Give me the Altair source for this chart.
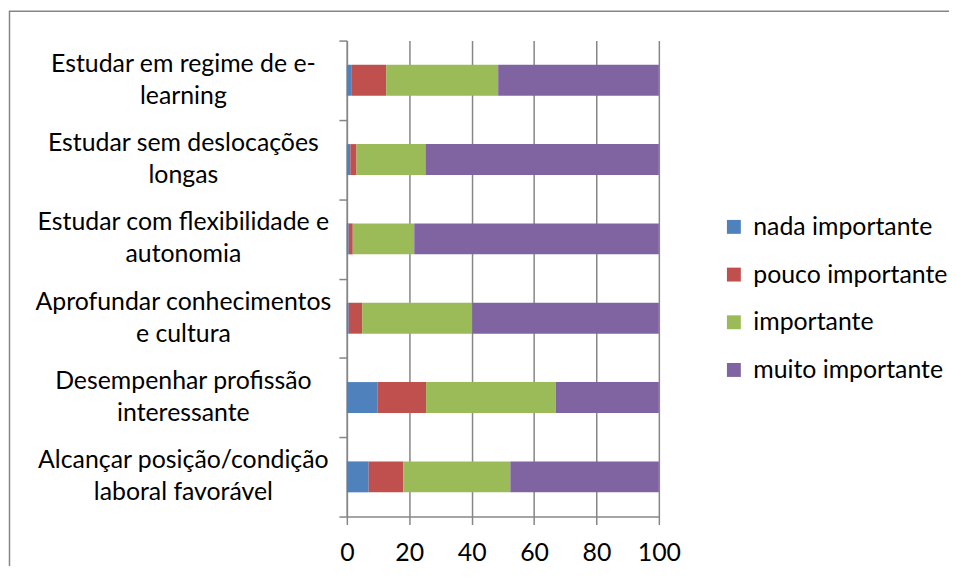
import altair as alt
import pandas as pd

categories = [
    "Estudar em regime de e-\nlearning",
    "Estudar sem deslocações\nlongas",
    "Estudar com flexibilidade e\nautonomia",
    "Aprofundar conhecimentos\ne cultura",
    "Desempenhar profissão\ninteressante",
    "Alcançar posição/condição\nlaboral favorável",
]
series = ["nada importante", "pouco importante", "importante", "muito importante"]
colors = ["#4F81BD", "#C0504D", "#9BBB59", "#8064A2"]

nada = [1.6, 1.1, 0.6, 0.6, 9.9, 7.0]
pouco = [11.0, 2.0, 1.3, 4.3, 15.5, 11.1]
importante = [35.9, 22.1, 19.7, 35.3, 41.6, 34.3]
muito = [51.5, 74.8, 78.4, 59.8, 33.0, 47.6]
x_ticks = [0, 20, 40, 60, 80, 100]

rows = []
for i, c in enumerate(categories):
    for k, (s, vals) in enumerate(zip(series, [nada, pouco, importante, muito])):
        rows.append({"cat": c, "serie": s, "valor": vals[i], "ordem": k})
df = pd.DataFrame(rows)

FONT = "Lato"
FS = 25
GRAY = "#868686"

bars = alt.Chart(df).mark_bar(stroke=None, height={"band": 0.39}).encode(
    y=alt.Y(
        "cat:N",
        sort=categories,
        title=None,
        scale=alt.Scale(paddingInner=0, paddingOuter=0),
        axis=alt.Axis(
            labelExpr="split(datum.label, '\\n')",
            labelAlign="center",
            labelPadding=157,
            labelOffset=-17,
            labelLimit=500,
            labelFont=FONT,
            labelFontSize=FS,
            labelColor="#000000",
            labelLineHeight=32,
            tickBand="extent",
            tickSize=8,
            tickColor=GRAY,
            tickWidth=1.5,
            domainColor=GRAY,
            domainWidth=1.5,
            grid=False,
        ),
    ),
    x=alt.X(
        "valor:Q",
        stack="zero",
        title=None,
        scale=alt.Scale(domain=[0, 100], nice=False),
        axis=alt.Axis(
            values=x_ticks,
            labelFont=FONT,
            labelFontSize=FS,
            labelColor="#000000",
            labelPadding=16,
            labelFlush=False,
            labelOverlap=False,
            tickSize=8,
            tickColor=GRAY,
            tickWidth=1.5,
            domainColor=GRAY,
            domainWidth=1.5,
            grid=True,
            gridColor=GRAY,
            gridWidth=1.5,
        ),
    ),
    color=alt.Color(
        "serie:N",
        sort=series,
        scale=alt.Scale(domain=series, range=colors),
        legend=alt.Legend(
            title=None,
            orient="none",
            legendX=377,
            legendY=175,
            symbolType="square",
            symbolSize=196,
            symbolStrokeWidth=0,
            labelFont=FONT,
            labelFontSize=FS,
            labelColor="#000000",
            labelLimit=500,
            labelOffset=7,
            rowPadding=22,
        ),
    ),
    order=alt.Order("ordem:Q", sort="ascending"),
)

border = alt.Chart(pd.DataFrame({"b": [0]})).mark_rect(
    fill=None, stroke=GRAY, strokeWidth=1.5
).encode(
    x=alt.value(-339.5),
    x2=alt.value(640),
    y=alt.value(-29.5),
    y2=alt.value(600),
)

chart = alt.layer(border, bars).properties(
    width=314,
    height=479,
    autosize=alt.AutoSizeParams(type="none"),
    padding={"left": 341, "top": 31, "right": 292, "bottom": 48},
).configure_view(stroke=None)

chart.save("out.html", embed_options={"renderer": "svg", "actions": False})
